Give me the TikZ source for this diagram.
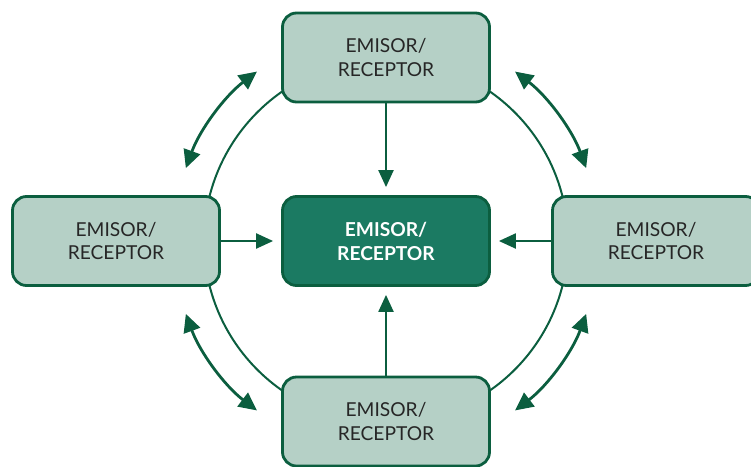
\documentclass[tikz,border=0pt]{standalone}
\usepackage{fontspec}
\setmainfont{Lato}
\usetikzlibrary{arrows.meta,calc}
\definecolor{boxline}{HTML}{0B5E3F}
\definecolor{boxfill}{HTML}{B5D0C6}
\definecolor{hubfill}{HTML}{1B7A62}
\definecolor{txt}{HTML}{262626}
\tikzset{
  party/.style={draw=boxline, line width=2.8pt, fill=boxfill, rounded corners=14pt,
    minimum width=207pt, minimum height=89pt, align=center, text=txt,
    font=\fontsize{19.2}{24}\selectfont},
  hub/.style={party, fill=hubfill, text=white, font=\fontsize{19.2}{24}\selectfont\bfseries},
  flow/.style={draw=boxline, line width=2.2pt, -{Triangle[length=17pt,width=15pt]}, shorten >=8pt},
  swap/.style={draw=boxline, line width=2.8pt, {Triangle[length=18pt,width=17pt]}-{Triangle[length=18pt,width=17pt]}},
  ring/.style={draw=boxline, line width=2pt}
}
\begin{document}
\begin{tikzpicture}[x=1pt,y=-1pt]
\useasboundingbox (0,0) rectangle (751,466);
\clip (0,0) rectangle (751,466);
\coordinate (C) at (386,241);
% ring linking the outer parties
\draw[ring] (C) circle[radius=182];
% parties
\node[party] (top) at (386,57.5) {EMISOR/\\RECEPTOR};
\node[party] (left) at (116,241) {EMISOR/\\RECEPTOR};
\node[party] (right) at (656,241) {EMISOR/\\RECEPTOR};
\node[party] (bottom) at (386,421.5) {EMISOR/\\RECEPTOR};
\node[hub] (hub) at (C) {EMISOR/\\RECEPTOR};
% messages to the hub
\draw[flow] (top.south) -- (hub.north);
\draw[flow] (left.east) -- (hub.west);
\draw[flow] (right.west) -- (hub.east);
\draw[flow] (bottom.north) -- (hub.south);
% two-way exchanges between neighbours
\coordinate (tl) at ($(C)+(232.7:213)$);
\coordinate (tr) at ($(C)+(-20:213)$);
\coordinate (br) at ($(C)+(52.7:213)$);
\coordinate (bl) at ($(C)+(160:213)$);
\draw[swap] (tl) arc[start angle=232.7, end angle=200, radius=213];
\draw[swap] (tr) arc[start angle=-20, end angle=-52.7, radius=213];
\draw[swap] (br) arc[start angle=52.7, end angle=20, radius=213];
\draw[swap] (bl) arc[start angle=160, end angle=127.3, radius=213];
\end{tikzpicture}
\end{document}
